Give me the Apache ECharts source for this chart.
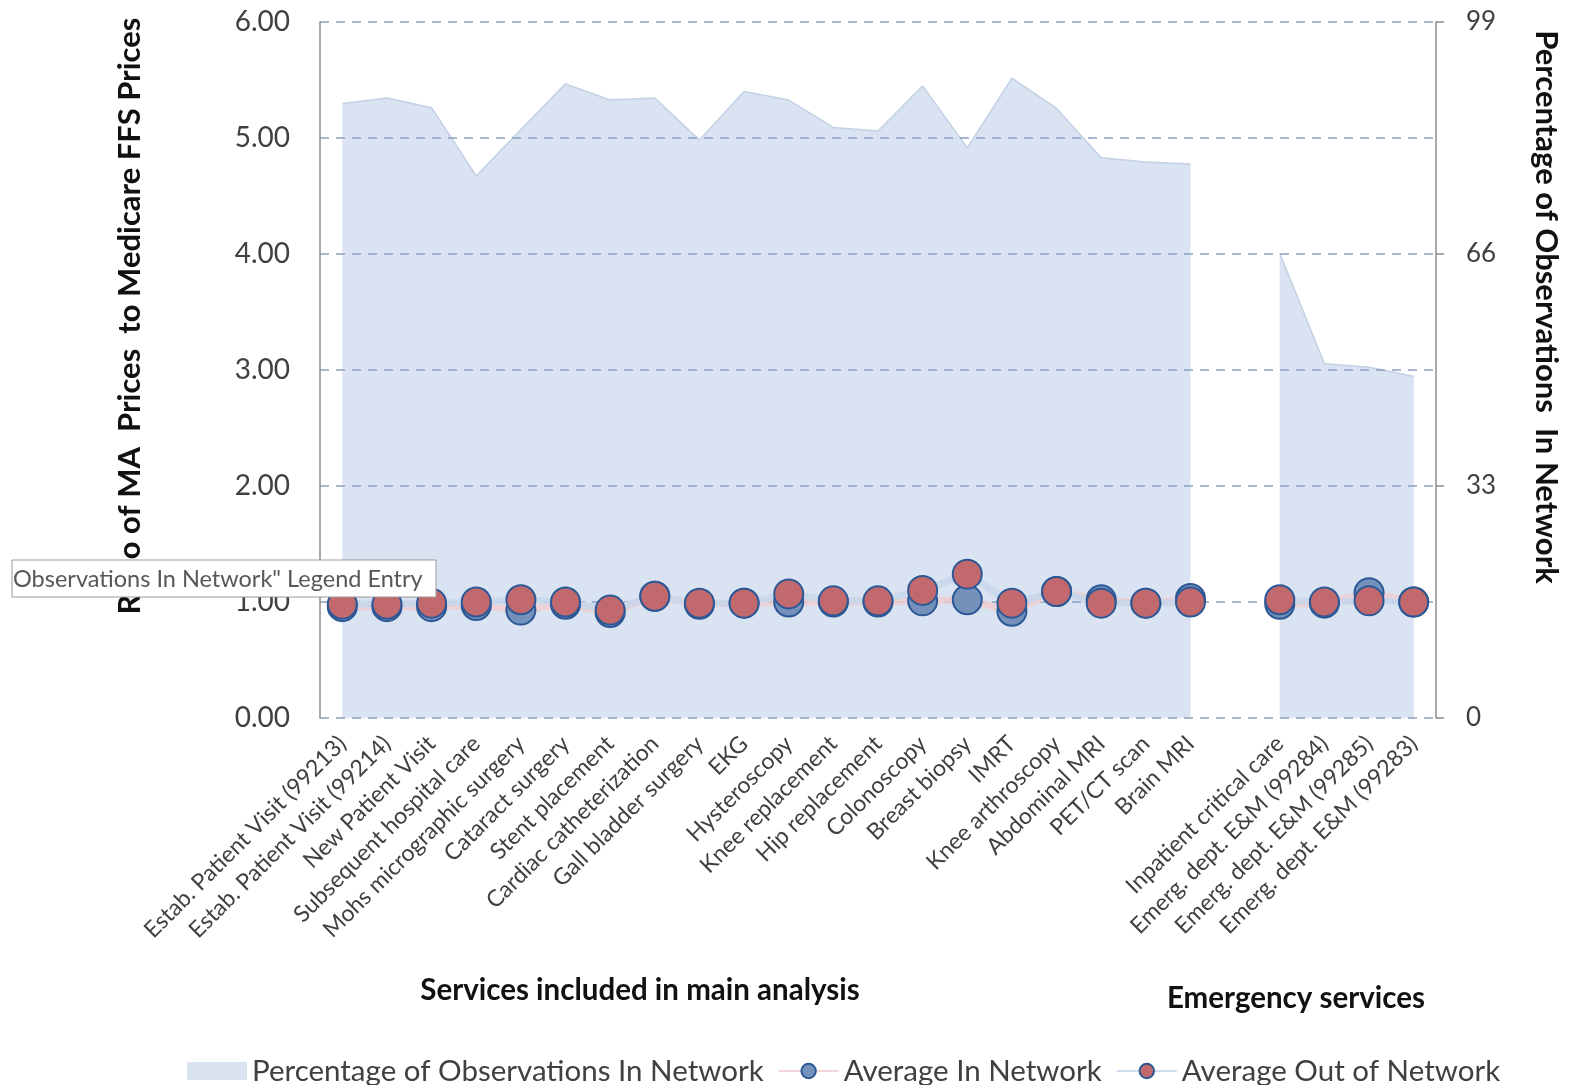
<!DOCTYPE html>
<html>
<head>
<meta charset="utf-8">
<script src="https://cdn.jsdelivr.net/npm/echarts@6/dist/echarts.min.js"></script>
<style>
  html, body { margin: 0; padding: 0; background: #fff; }
  #chart { width: 1572px; height: 1085px; }
</style>
</head>
<body>
<div id="chart"></div>
<script>
// MA vs Medicare FFS price ratio chart

const categories = [
    'Estab. Patient Visit (99213)', 'Estab. Patient Visit (99214)', 'New Patient Visit',
    'Subsequent hospital care', 'Mohs micrographic surgery', 'Cataract surgery',
    'Stent placement', 'Cardiac catheterization', 'Gall bladder surgery', 'EKG',
    'Hysteroscopy', 'Knee replacement', 'Hip replacement', 'Colonoscopy', 'Breast biopsy',
    'IMRT', 'Knee arthroscopy', 'Abdominal MRI', 'PET/CT scan', 'Brain MRI',
    '',
    'Inpatient critical care', 'Emerg. dept. E&M (99284)', 'Emerg. dept. E&M (99285)',
    'Emerg. dept. E&M (99283)'
];

// right axis (0 - 99)
const pctInNetwork = [87.4, 88.2, 86.8, 77.1, 83.7, 90.2, 87.9, 88.2, 82.2, 89.1,
    87.9, 84.0, 83.5, 89.9, 81.1, 91.0, 86.7, 79.7, 79.1, 78.8,
    null,
    66.1, 50.4, 49.9, 48.6];

// left axis (ratio)
const avgInNetwork = [0.96, 0.96, 0.96, 0.97, 0.93, 0.98, 0.91, 1.05, 0.98, 0.99,
    1.00, 1.00, 1.00, 1.01, 1.02, 0.92, 1.09, 1.02, 0.99, 1.03,
    null,
    0.98, 0.99, 1.08, 1.00];

const avgOutNetwork = [0.98, 0.98, 0.99, 1.00, 1.02, 1.00, 0.93, 1.05, 0.99, 0.99,
    1.07, 1.01, 1.01, 1.10, 1.24, 0.99, 1.09, 0.99, 0.99, 1.00,
    null,
    1.02, 1.00, 1.01, 1.00];

const leftTicks = [0, 6, 1];
const rightTicks = [0, 99, 33];

const fontName = 'Lato';
const textColor = '#404040';

const chartDom = document.getElementById('chart');
let chart = echarts.init(chartDom);

let option = {
    backgroundColor: '#ffffff',
    animation: false,
    textStyle: { fontFamily: fontName },
    grid: {
        left: 320,
        right: 136,
        top: 22,
        bottom: 367
    },
    legend: {
        left: 182,
        top: 1051,
        itemWidth: 60,
        itemHeight: 18,
        itemGap: 14,
        textStyle: {
            fontSize: 29.5,
            color: textColor,
            fontFamily: fontName
        },
        data: [
            { name: 'Percentage of Observations In Network', icon: 'rect' },
            { name: 'Average In Network' },
            { name: 'Average Out of Network' }
        ]
    },
    xAxis: {
        type: 'category',
        data: categories,
        boundaryGap: true,
        axisLine: { show: false },
        axisTick: { show: false },
        axisLabel: {
            interval: 0,
            rotate: 45,
            margin: 22,
            fontSize: 23,
            color: textColor,
            fontFamily: fontName
        },
        splitLine: { show: false }
    },
    yAxis: [
        {
            type: 'value',
            min: leftTicks[0],
            max: leftTicks[1],
            interval: leftTicks[2],
            axisLine: { show: true, lineStyle: { color: '#8c8c8c', width: 1.5 } },
            axisTick: { show: false },
            axisLabel: {
                margin: 30,
                fontSize: 28,
                color: textColor,
                fontFamily: fontName,
                formatter: function (v) { return v.toFixed(2); }
            },
            splitLine: {
                show: true,
                lineStyle: { color: '#8aa0c2', type: [9, 7], width: 1.5 }
            }
        },
        {
            type: 'value',
            min: rightTicks[0],
            max: rightTicks[1],
            interval: rightTicks[2],
            axisLine: { show: true, lineStyle: { color: '#8c8c8c', width: 1.5 } },
            axisTick: { show: true, inside: false, length: 8, lineStyle: { color: '#8c8c8c', width: 1.5 } },
            axisLabel: {
                margin: 30,
                fontSize: 26,
                color: textColor,
                fontFamily: fontName
            },
            splitLine: { show: false }
        }
    ],
    series: [
        {
            name: 'Percentage of Observations In Network',
            type: 'line',
            yAxisIndex: 1,
            data: pctInNetwork,
            z: -1,
            showSymbol: false,
            symbol: 'none',
            connectNulls: false,
            itemStyle: { color: '#d9e2ef' },
            lineStyle: { color: '#c3d1e5', width: 1.5 },
            areaStyle: { color: 'rgba(180,200,228,0.5)', opacity: 1 }
        },
        {
            name: 'Average In Network',
            type: 'line',
            data: avgInNetwork,
            connectNulls: false,
            symbol: 'circle',
            symbolSize: 29,
            itemStyle: { color: '#7391ba', borderColor: '#2d5896', borderWidth: 2 },
            lineStyle: { color: 'rgba(240,205,208,0.8)', width: 7 }
        },
        {
            name: 'Average Out of Network',
            type: 'line',
            data: avgOutNetwork,
            connectNulls: false,
            symbol: 'circle',
            symbolSize: 29,
            itemStyle: { color: '#c2696d', borderColor: '#2d5896', borderWidth: 2 },
            lineStyle: { color: 'rgba(200,215,235,0.85)', width: 7 }
        }
    ],
    graphic: [
        {
            type: 'text',
            x: 130,
            y: 316,
            rotation: Math.PI / 2,
            style: {
                text: 'Ratio of MA  Prices  to Medicare FFS Prices',
                font: 'bold 31px Lato',
                fill: '#111',
                align: 'center',
                verticalAlign: 'middle'
            }
        },
        {
            type: 'text',
            x: 1546,
            y: 307,
            rotation: -Math.PI / 2,
            style: {
                text: 'Percentage of Observations  In Network',
                font: 'bold 31px Lato',
                fill: '#111',
                align: 'center',
                verticalAlign: 'middle'
            }
        },
        {
            type: 'text',
            x: 640,
            y: 990,
            style: {
                text: 'Services included in main analysis',
                font: 'bold 29.5px Lato',
                fill: '#111',
                align: 'center',
                verticalAlign: 'middle'
            }
        },
        {
            type: 'text',
            x: 1296,
            y: 998,
            style: {
                text: 'Emergency services',
                font: 'bold 29.5px Lato',
                fill: '#111',
                align: 'center',
                verticalAlign: 'middle'
            }
        },
        // hover tooltip left over in the picture
        {
            type: 'rect',
            z: 100,
            shape: { x: 12, y: 560, width: 424, height: 37 },
            style: { fill: '#ffffff', stroke: '#9a9a9a', lineWidth: 1 }
        },
        {
            type: 'text',
            z: 101,
            x: 13,
            y: 579,
            style: {
                text: 'Observations In Network" Legend Entry',
                font: '23.5px Lato',
                fill: '#575757',
                align: 'left',
                verticalAlign: 'middle'
            }
        }
    ]
};

option && chart.setOption(option);
</script>
</body>
</html>
